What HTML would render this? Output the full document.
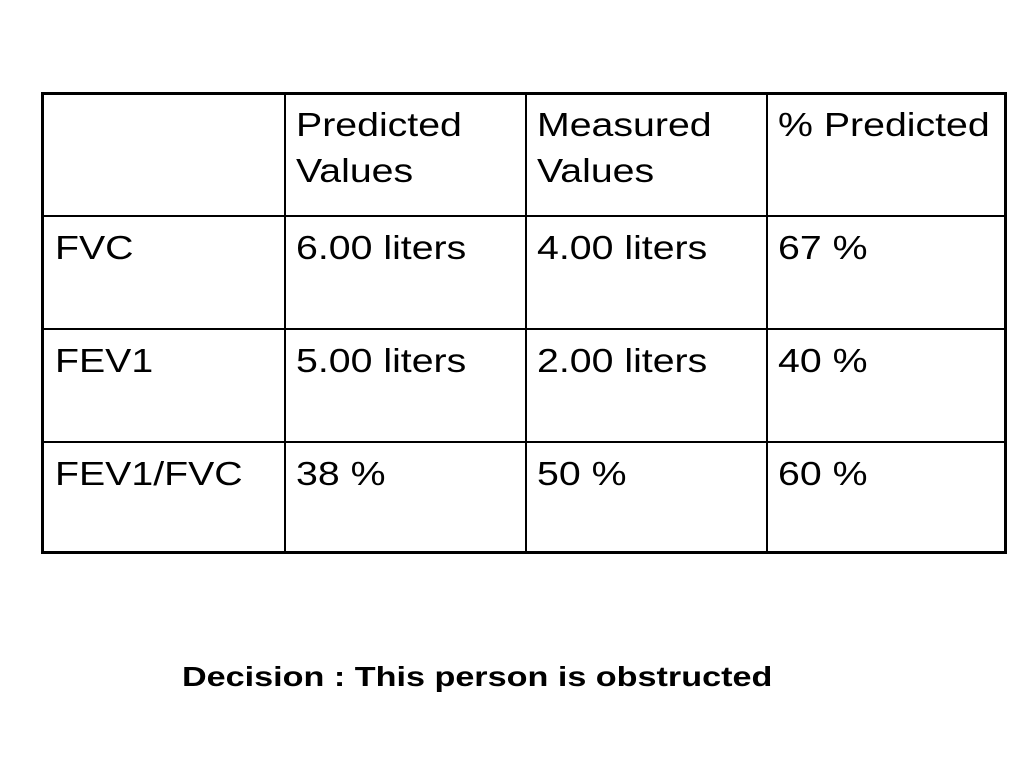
<!DOCTYPE html>
<html><head><meta charset="utf-8"><style>
html,body{margin:0;padding:0;background:#fff;width:1024px;height:768px;overflow:hidden;}
body{position:relative;font-family:"Liberation Sans",Arial,sans-serif;color:#000;}
.tbl{position:absolute;left:41px;top:92px;width:960px;height:456px;border:3px solid #000;}
.vl{position:absolute;top:0;bottom:0;width:2px;background:#000;}
.hl{position:absolute;left:0;right:0;height:2px;background:#000;}
.t{position:absolute;font-size:33px;line-height:46px;white-space:nowrap;transform:scaleX(1.19);transform-origin:0 0;}
.dec{position:absolute;left:182px;top:661px;font-size:28px;font-weight:bold;white-space:nowrap;transform:scaleX(1.22);transform-origin:0 0;}
</style></head><body>
<div class="tbl">
  <div class="vl" style="left:240px"></div>
  <div class="vl" style="left:481px"></div>
  <div class="vl" style="left:722px"></div>
  <div class="hl" style="top:120px"></div>
  <div class="hl" style="top:233px"></div>
  <div class="hl" style="top:346px"></div>
</div>
<div class="t" style="left:296px;top:102px">Predicted<br>Values</div>
<div class="t" style="left:537px;top:102px">Measured<br>Values</div>
<div class="t" style="left:778px;top:102px">% Predicted</div>

<div class="t" style="left:55px;top:225px">FVC</div>
<div class="t" style="left:296px;top:225px">6.00 liters</div>
<div class="t" style="left:537px;top:225px">4.00 liters</div>
<div class="t" style="left:778px;top:225px">67 %</div>

<div class="t" style="left:55px;top:338px">FEV1</div>
<div class="t" style="left:296px;top:338px">5.00 liters</div>
<div class="t" style="left:537px;top:338px">2.00 liters</div>
<div class="t" style="left:778px;top:338px">40 %</div>

<div class="t" style="left:55px;top:451px">FEV1/FVC</div>
<div class="t" style="left:296px;top:451px">38 %</div>
<div class="t" style="left:537px;top:451px">50 %</div>
<div class="t" style="left:778px;top:451px">60 %</div>

<div class="dec">Decision : This person is obstructed</div>
</body></html>
